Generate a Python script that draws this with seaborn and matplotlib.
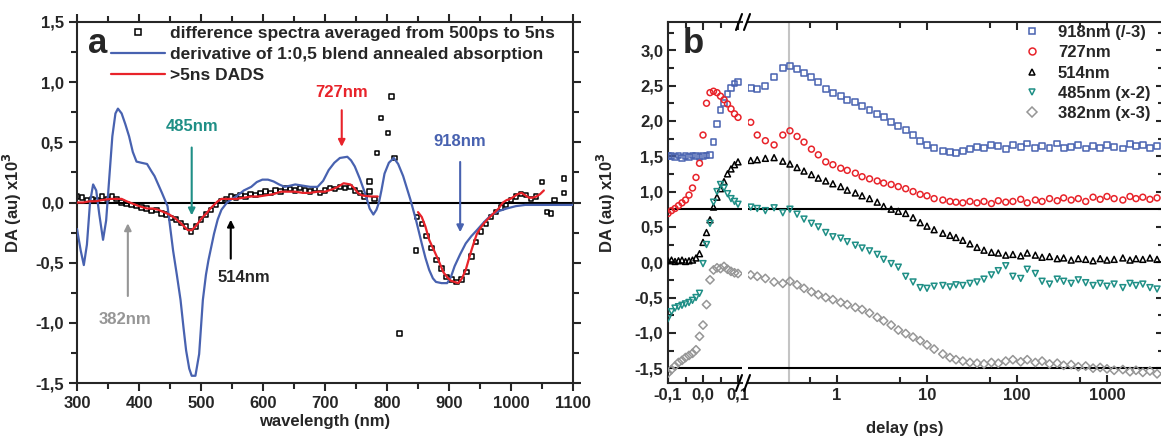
import pandas as pd
import seaborn as sns
import matplotlib.pyplot as plt
import matplotlib.ticker as mticker
from matplotlib.lines import Line2D

# ---------------- panel a : spectra ----------------
wl_deriv = [300, 306, 311, 316, 321, 326, 331, 336, 342, 347, 352, 357, 362, 366,
            372, 378, 384, 390, 396, 404, 413, 420, 425, 431, 437, 446, 455, 461,
            467, 472, 476, 481, 485, 491, 497, 503, 508, 512, 521, 527, 533, 542,
            550, 557, 569, 581, 590, 599, 608, 617, 626, 635, 644, 652, 664, 676,
            688, 697, 706, 715, 724, 736, 742, 748, 756, 763, 768, 772, 778, 783,
            787, 791, 796, 803, 811, 818, 826, 832, 838, 847, 856, 862, 868, 874,
            879, 888, 897, 903, 909, 918, 927, 936, 945, 957, 969, 981, 993, 1008,
            1023, 1050, 1080, 1100]
da_deriv = [-0.22, -0.40, -0.52, -0.35, 0.00, 0.15, 0.10, -0.10, -0.31, -0.15, 0.20,
            0.55, 0.74, 0.78, 0.74, 0.65, 0.55, 0.42, 0.34, 0.33, 0.32, 0.26, 0.22,
            0.15, 0.08, -0.03, -0.40, -0.60, -0.81, -1.05, -1.23, -1.38, -1.44,
            -1.44, -1.26, -0.81, -0.60, -0.48, -0.26, -0.14, -0.06, 0.00, 0.03,
            0.05, 0.10, 0.13, 0.17, 0.19, 0.19, 0.175, 0.15, 0.13, 0.14, 0.15, 0.14,
            0.13, 0.13, 0.18, 0.27, 0.33, 0.37, 0.38, 0.35, 0.30, 0.20, 0.10, 0.02,
            -0.05, -0.10, -0.06, 0.00, 0.10, 0.24, 0.33, 0.37, 0.32, 0.22, 0.12,
            0.02, -0.15, -0.34, -0.46, -0.56, -0.63, -0.66, -0.67, -0.67, -0.62,
            -0.53, -0.43, -0.34, -0.28, -0.23, -0.16, -0.10, -0.07, -0.05, -0.03,
            -0.02, -0.02, -0.02, -0.02]

wl_dads_vis = [300, 310, 320, 330, 340, 354, 365, 372, 380, 390, 400, 413, 422, 431,
               440, 449, 458, 467, 473, 479, 485, 491, 497, 503, 509, 515, 521, 527,
               533, 545, 557, 569, 581, 593, 605, 617, 629, 641, 652, 664, 676, 688,
               700, 712, 721, 730, 741, 747, 753, 759, 765, 775, 785]
da_dads_vis = [0.00, 0.00, 0.01, 0.01, 0.02, 0.03, 0.03, 0.03, 0.01, -0.01, -0.03,
               -0.05, -0.05, -0.06, -0.08, -0.10, -0.13, -0.17, -0.20, -0.23, -0.23,
               -0.20, -0.16, -0.12, -0.09, -0.05, -0.02, 0.01, 0.03, 0.03, 0.03, 0.04,
               0.05, 0.05, 0.06, 0.07, 0.09, 0.09, 0.09, 0.08, 0.08, 0.09, 0.09, 0.11,
               0.13, 0.16, 0.15, 0.12, 0.08, 0.06, 0.055, 0.05, 0.05]
wl_dads_nir = [850, 856, 862, 868, 876, 883, 891, 897, 903, 909, 915, 921, 927, 932,
               936, 941, 945, 951, 957, 964, 972, 980, 987, 993, 999, 1005, 1011,
               1017, 1023, 1029, 1035, 1041, 1047, 1053]
da_dads_nir = [-0.08, -0.12, -0.20, -0.31, -0.40, -0.48, -0.58, -0.62, -0.65, -0.66,
               -0.67, -0.63, -0.56, -0.47, -0.40, -0.32, -0.26, -0.21, -0.17, -0.13,
               -0.09, -0.05, 0.00, 0.02, 0.03, 0.05, 0.07, 0.08, 0.06, 0.04, 0.04,
               0.05, 0.07, 0.10]

wl_diff = [300, 308, 316, 324, 332, 340, 348, 356, 364, 372, 380, 388, 396, 404, 412,
           420, 428, 436, 444, 452, 460, 468, 476, 484, 492, 500, 508, 516, 524, 532,
           540, 548, 556, 564, 572, 580, 588, 596, 604, 612, 620, 628, 636, 644, 652,
           660, 668, 676, 684, 692, 700, 708, 716, 724, 732, 740, 748, 756, 764, 772,
           780, 772, 784, 790, 802, 807, 812, 820, 847, 848, 856, 864, 872, 880, 888,
           896, 904, 912, 920, 928, 936, 944, 952, 960, 968, 976, 984, 992, 1000,
           1008, 1016, 1024, 1032, 1040, 1050, 1058, 1065, 1070, 1085, 1085]
da_diff = [0.05, 0.04, 0.02, 0.03, 0.02, 0.05, 0.03, 0.05, 0.03, 0.00, -0.01, -0.02,
           -0.03, -0.04, -0.05, -0.07, -0.06, -0.09, -0.10, -0.13, -0.14, -0.17,
           -0.20, -0.24, -0.20, -0.14, -0.10, -0.06, -0.02, 0.01, 0.03, 0.05, 0.04,
           0.06, 0.05, 0.07, 0.06, 0.08, 0.09, 0.08, 0.10, 0.09, 0.12, 0.11, 0.10,
           0.12, 0.10, 0.09, 0.11, 0.08, 0.10, 0.12, 0.11, 0.13, 0.12, 0.13, 0.10,
           0.08, 0.05, 0.09, 0.03, 0.175, 0.41, 0.70, 0.58, 0.88, 0.37, -1.09, -0.40,
           -0.12, -0.18, -0.28, -0.38, -0.48, -0.55, -0.62, -0.64, -0.66, -0.64,
           -0.58, -0.45, -0.33, -0.24, -0.18, -0.12, -0.08, -0.04, -0.02, 0.02, 0.05,
           0.07, 0.06, 0.03, 0.05, 0.17, -0.08, -0.09, 0.02, 0.20, 0.08]

# ---------------- panel b : kinetics ----------------
t_lin = [-0.10, -0.09, -0.08, -0.07, -0.06, -0.05, -0.04, -0.03, -0.02, -0.01, 0.00,
         0.01, 0.02, 0.03, 0.04, 0.05, 0.06, 0.07, 0.08, 0.09, 0.10]
t_log = [0.11, 0.13, 0.16, 0.2, 0.25, 0.3, 0.36, 0.43, 0.52, 0.62, 0.75, 0.9, 1.1,
         1.3, 1.6, 1.9, 2.3, 2.8, 3.3, 4, 4.8, 5.8, 7, 8.4, 10, 12, 15, 18, 21, 25,
         30, 36, 43, 52, 62, 75, 90, 110, 130, 160, 190, 230, 280, 330, 400, 480,
         580, 700, 840, 1000, 1200, 1500, 1800, 2100, 2500, 3000, 3600]

k918_lin = [1.50, 1.50, 1.49, 1.51, 1.48, 1.50, 1.49, 1.51, 1.50, 1.49, 1.50, 1.51,
            1.52, 1.70, 1.95, 2.15, 2.25, 2.38, 2.47, 2.53, 2.55]
k918_log = [2.46, 2.45, 2.50, 2.62, 2.75, 2.78, 2.74, 2.68, 2.62, 2.55, 2.45, 2.40,
            2.35, 2.30, 2.27, 2.21, 2.16, 2.10, 2.05, 1.99, 1.93, 1.87, 1.80, 1.72,
            1.66, 1.62, 1.57, 1.56, 1.55, 1.57, 1.60, 1.63, 1.62, 1.66, 1.64, 1.60,
            1.66, 1.63, 1.68, 1.62, 1.64, 1.62, 1.68, 1.62, 1.63, 1.66, 1.61, 1.64,
            1.62, 1.66, 1.63, 1.61, 1.67, 1.64, 1.66, 1.62, 1.64]

k727_lin = [0.69, 0.73, 0.76, 0.80, 0.84, 0.88, 0.95, 1.05, 1.20, 1.40, 1.80, 2.25,
            2.40, 2.42, 2.40, 2.35, 2.30, 2.24, 2.17, 2.10, 2.05]
k727_log = [1.98, 1.80, 1.72, 1.66, 1.80, 1.86, 1.78, 1.70, 1.60, 1.52, 1.42, 1.38,
            1.33, 1.30, 1.26, 1.21, 1.18, 1.15, 1.12, 1.10, 1.07, 1.04, 1.00, 0.96,
            0.94, 0.90, 0.88, 0.86, 0.85, 0.84, 0.86, 0.84, 0.86, 0.83, 0.87, 0.85,
            0.86, 0.89, 0.84, 0.88, 0.86, 0.90, 0.87, 0.91, 0.88, 0.90, 0.86, 0.92,
            0.89, 0.93, 0.90, 0.88, 0.93, 0.90, 0.92, 0.89, 0.91]

k514_lin = [0.02, 0.03, 0.01, 0.02, 0.03, 0.01, 0.02, 0.03, 0.06, 0.12, 0.28, 0.42,
            0.60, 0.78, 0.92, 1.04, 1.14, 1.25, 1.32, 1.38, 1.42]
k514_log = [1.44, 1.45, 1.47, 1.48, 1.43, 1.39, 1.34, 1.29, 1.24, 1.19, 1.15, 1.11,
            1.07, 1.02, 0.98, 0.94, 0.90, 0.85, 0.79, 0.75, 0.72, 0.69, 0.63, 0.56,
            0.51, 0.46, 0.41, 0.38, 0.35, 0.31, 0.26, 0.21, 0.17, 0.14, 0.13, 0.10,
            0.11, 0.09, 0.13, 0.10, 0.07, 0.08, 0.05, 0.06, 0.03, 0.05, 0.04, 0.02,
            0.05, 0.03, 0.04, 0.06, 0.03, 0.05, 0.04, 0.06, 0.04]

k485_lin = [-0.80, -0.70, -0.65, -0.63, -0.61, -0.59, -0.57, -0.54, -0.50, -0.44,
            -0.02, 0.25, 0.55, 0.85, 1.00, 1.10, 1.05, 0.97, 0.90, 0.86, 0.82]
k485_log = [0.78, 0.76, 0.73, 0.77, 0.70, 0.75, 0.68, 0.61, 0.55, 0.50, 0.42, 0.36,
            0.34, 0.29, 0.24, 0.20, 0.16, 0.11, 0.04, -0.02, -0.07, -0.20, -0.28,
            -0.36, -0.37, -0.34, -0.33, -0.35, -0.32, -0.33, -0.30, -0.28, -0.24,
            -0.18, -0.12, -0.05, -0.20, -0.23, -0.10, -0.16, -0.27, -0.31, -0.24,
            -0.27, -0.30, -0.25, -0.29, -0.33, -0.30, -0.34, -0.31, -0.36, -0.30,
            -0.33, -0.31, -0.36, -0.38]

k382_lin = [-1.57, -1.52, -1.47, -1.42, -1.39, -1.35, -1.32, -1.29, -1.24, -1.05,
            -0.89, -0.60, -0.25, -0.11, -0.08, -0.09, -0.06, -0.10, -0.13, -0.15,
            -0.16]
k382_log = [-0.18, -0.20, -0.23, -0.28, -0.30, -0.27, -0.32, -0.37, -0.42, -0.46,
            -0.50, -0.53, -0.57, -0.60, -0.64, -0.67, -0.72, -0.78, -0.83, -0.89,
            -0.96, -1.01, -1.06, -1.11, -1.17, -1.23, -1.30, -1.35, -1.38, -1.40,
            -1.42, -1.43, -1.44, -1.42, -1.43, -1.40, -1.38, -1.41, -1.38, -1.42,
            -1.40, -1.44, -1.43, -1.46, -1.45, -1.48, -1.47, -1.50, -1.49, -1.51,
            -1.53, -1.52, -1.55, -1.53, -1.56, -1.54, -1.58]

BLUE = "#4862b0"
RED = "#e8232a"
TEAL = "#1f8f86"
GREY = "#969696"

traces = [
    ("918nm (/-3)", k918_lin, k918_log, BLUE, "s"),
    ("727nm", k727_lin, k727_log, RED, "o"),
    ("514nm", k514_lin, k514_log, "black", "^"),
    ("485nm (x-2)", k485_lin, k485_log, TEAL, "v"),
    ("382nm (x-3)", k382_lin, k382_log, GREY, "D"),
]

# ------------------------------------------------------------------
sns.set_style("ticks")
plt.rcParams["font.family"] = ["Liberation Sans", "DejaVu Sans"]
plt.rcParams["font.weight"] = "bold"
plt.rcParams["font.size"] = 12
plt.rcParams["axes.linewidth"] = 1.5

W, H = 1161, 438
fig = plt.figure(figsize=(W / 100, H / 100), dpi=100)


def box(x0, y0, x1, y1):
    return [x0 / W, 1 - y1 / H, (x1 - x0) / W, (y1 - y0) / H]


def comma(x, _pos):
    return f"{x:.1f}".replace(".", ",")


# ---------------- panel a ----------------
ax_a = fig.add_axes(box(77, 22, 573, 383))
ax_a.axhline(0, color="black", lw=1.5, zorder=1)

df_dads = pd.DataFrame({
    "wl": wl_dads_vis + wl_dads_nir,
    "da": da_dads_vis + da_dads_nir,
    "part": ["vis"] * len(wl_dads_vis) + ["nir"] * len(wl_dads_nir),
})
sns.scatterplot(x=wl_diff, y=da_diff, ax=ax_a, marker="s", s=10,
                facecolor="none", edgecolor="black", linewidth=1.1, zorder=2)
sns.lineplot(x=wl_deriv, y=da_deriv, ax=ax_a, color=BLUE, lw=1.6,
             sort=False, estimator=None, zorder=3)
sns.lineplot(data=df_dads, x="wl", y="da", units="part", estimator=None,
             ax=ax_a, color=RED, lw=1.6, sort=False, zorder=4)

ax_a.set_xlim(300, 1100)
ax_a.set_ylim(-1.5, 1.5)
ax_a.xaxis.set_major_locator(mticker.MultipleLocator(100))
ax_a.xaxis.set_minor_locator(mticker.MultipleLocator(50))
ax_a.yaxis.set_major_locator(mticker.MultipleLocator(0.5))
ax_a.yaxis.set_minor_locator(mticker.MultipleLocator(0.25))
ax_a.yaxis.set_major_formatter(mticker.FuncFormatter(comma))
ax_a.tick_params(which="both", direction="out", top=True, right=True, width=1.5)
ax_a.tick_params(which="major", length=6)
ax_a.tick_params(which="minor", length=4)
ax_a.set_xlabel("wavelength (nm)", fontweight="bold", labelpad=2)
ax_a.set_ylabel("DA (au) x10$^3$", fontweight="bold", labelpad=8)

arrows_a = [
    ("485nm", 485, 0.63, 0.48, -0.13, TEAL),
    ("727nm", 727, 0.91, 0.79, 0.44, RED),
    ("918nm", 918, 0.51, 0.36, -0.27, BLUE),
]
for lab, xw, ytxt, y0, y1, c in arrows_a:
    ax_a.text(xw, ytxt, lab, color=c, ha="center", va="center", fontweight="bold")
    ax_a.annotate("", xy=(xw, y1), xytext=(xw, y0),
                  arrowprops=dict(arrowstyle="-|>", color=c, lw=1.5, mutation_scale=10))
ax_a.annotate("", xy=(548, -0.12), xytext=(548, -0.49),
              arrowprops=dict(arrowstyle="-|>", color="black", lw=1.5, mutation_scale=10))
ax_a.text(569, -0.62, "514nm", ha="center", va="center", fontweight="bold")
ax_a.annotate("", xy=(382, -0.15), xytext=(382, -0.80),
              arrowprops=dict(arrowstyle="-|>", color=GREY, lw=1.5, mutation_scale=10))
ax_a.text(378, -0.97, "382nm", color=GREY, ha="center", va="center", fontweight="bold")

leg_a = [
    Line2D([], [], ls="none", marker="s", ms=4, mfc="none", mec="black", mew=1.1),
    Line2D([], [], color=BLUE, lw=1.6),
    Line2D([], [], color=RED, lw=1.6),
]
ax_a.legend(leg_a, ["difference spectra averaged from 500ps to 5ns",
                    "derivative of 1:0,5 blend annealed absorption",
                    ">5ns DADS"],
            loc="upper left", bbox_to_anchor=(111 / W, 1 - 26 / H),
            bbox_transform=fig.transFigure, frameon=False, borderpad=0,
            borderaxespad=0, handlelength=3.1, handletextpad=0.3,
            labelspacing=0.33, prop={"weight": "bold", "size": 12.5})
fig.text(88 / W, 1 - 53 / H, "a", fontsize=25, fontweight="bold", va="baseline")

# ---------------- panel b ----------------
ax_bl = fig.add_axes(box(668, 22, 742, 383))
ax_br = fig.add_axes(box(748, 22, 1164, 383), sharey=ax_bl)
ax_br.set_xscale("log")

for ax in (ax_bl, ax_br):
    ax.axhline(0.75, color="black", lw=1.5, zorder=2)
    ax.axhline(-1.5, color="black", lw=1.5, zorder=2)
ax_br.axvline(0.29, color="#c4c4c4", lw=1.5, zorder=1)

for lab, v_lin, v_log, c, m in traces:
    sns.scatterplot(x=t_lin, y=v_lin, ax=ax_bl, marker=m, s=18,
                    facecolor="none", edgecolor=c, linewidth=1.1, zorder=3)
    sns.scatterplot(x=t_log, y=v_log, ax=ax_br, marker=m, s=18,
                    facecolor="none", edgecolor=c, linewidth=1.1, zorder=3)

ax_bl.set_xlim(-0.1, 0.1114)
ax_br.set_xlim(0.1026, 4300)
ax_bl.set_ylim(-1.71, 3.40)

ax_bl.spines["right"].set_visible(False)
ax_br.spines["left"].set_visible(False)
ax_bl.xaxis.set_major_locator(mticker.FixedLocator([-0.1, 0.0, 0.1]))
ax_bl.xaxis.set_major_formatter(mticker.FixedFormatter(["-0,1", "0,0", "0,1"]))
ax_bl.xaxis.set_minor_locator(mticker.FixedLocator([-0.05, 0.05]))
ax_bl.yaxis.set_major_locator(mticker.MultipleLocator(0.5))
ax_bl.yaxis.set_minor_locator(mticker.MultipleLocator(0.25))
ax_bl.yaxis.set_major_formatter(mticker.FuncFormatter(comma))
ax_br.xaxis.set_major_locator(mticker.FixedLocator([1, 10, 100, 1000]))
ax_br.xaxis.set_major_formatter(mticker.FixedFormatter(["1", "10", "100", "1000"]))
ax_br.xaxis.set_minor_locator(mticker.FixedLocator([0.5, 5, 50, 500]))
ax_br.xaxis.set_minor_formatter(mticker.NullFormatter())

ax_bl.tick_params(which="both", direction="in", top=True, right=False, width=1.5)
ax_br.tick_params(which="both", direction="in", top=True, left=False, right=True,
                  labelleft=False, width=1.5)
for ax in (ax_bl, ax_br):
    ax.tick_params(which="major", length=6)
    ax.tick_params(which="minor", length=4)
ax_bl.set_ylabel("DA (au) x10$^3$", fontweight="bold", labelpad=12)
ax_bl.set_xlabel("")
ax_br.set_xlabel("")
fig.text(905 / W, 1 - 428 / H, "delay (ps)", ha="center", va="center",
         fontweight="bold")

# axis break marks
for yb in (22, 383):
    for xb in (739, 747):
        fig.add_artist(Line2D([(xb - 3) / W, (xb + 3) / W],
                              [1 - (yb + 8) / H, 1 - (yb - 8) / H],
                              color="black", lw=1.5))

leg_b = [Line2D([], [], ls="none", marker=m, ms=5, mfc="none", mec=c, mew=1.1)
         for _, _, _, c, m in traces]
ax_br.legend(leg_b, [t[0] for t in traces], loc="upper left",
             bbox_to_anchor=(1024 / W, 1 - 25 / H), bbox_transform=fig.transFigure,
             frameon=False, borderpad=0, borderaxespad=0, handlelength=1.0,
             handletextpad=1.04, labelspacing=0.32,
             prop={"weight": "bold", "size": 12})
fig.text(683 / W, 1 - 53 / H, "b", fontsize=25, fontweight="bold", va="baseline")

fig.savefig("out.png", dpi=100)
